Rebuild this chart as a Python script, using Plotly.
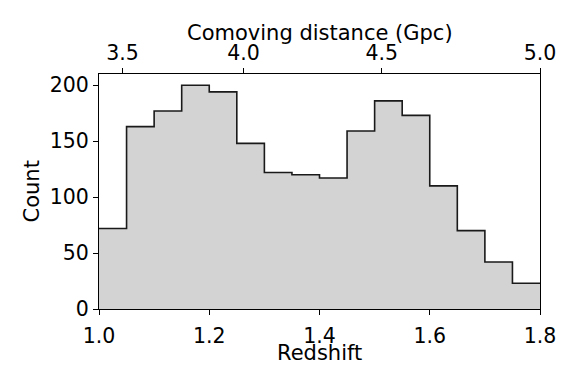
import plotly.graph_objects as go

# Data
bin_edges = [1.00, 1.05, 1.10, 1.15, 1.20, 1.25, 1.30, 1.35, 1.40, 1.45,
             1.50, 1.55, 1.60, 1.65, 1.70, 1.75, 1.80]
counts = [72, 163, 177, 200, 194, 148, 122, 120, 117, 159, 186, 173, 110, 70, 42, 23]

bottom_ticks = [1.0, 1.2, 1.4, 1.6, 1.8]
bottom_labels = ["1.0", "1.2", "1.4", "1.6", "1.8"]
y_ticks = [0, 50, 100, 150, 200]
# comoving distance ticks positioned at redshifts
top_tick_redshift = [1.0425, 1.262, 1.513, 1.8]
top_tick_labels = ["3.5", "4.0", "4.5", "5.0"]

FONT = "DejaVu Sans"

step_x = bin_edges
step_y = counts + [counts[-1]]

fig = go.Figure()
fig.add_trace(go.Scatter(
    x=step_x, y=step_y, mode="lines", line_shape="hv",
    line=dict(color="#1a1a1a", width=1.6),
    fill="tozeroy", fillcolor="#d3d3d3", hoverinfo="skip", showlegend=False))
fig.add_trace(go.Scatter(x=[bin_edges[0], bin_edges[-1]], y=[0, 0], xaxis="x2",
                         mode="markers", marker=dict(opacity=0), showlegend=False,
                         hoverinfo="skip"))

axis_common = dict(showgrid=False, zeroline=False, showline=True, linecolor="black",
                   linewidth=1, ticks="outside", ticklen=5, tickwidth=1, tickcolor="black",
                   tickfont=dict(family=FONT, size=20.5, color="black"))

title_font = dict(family=FONT, size=21, color="black")

# page body has an 8px margin, so the figure is 8px smaller and margins shifted
fig.update_layout(
    width=573, height=380,
    margin=dict(l=91, r=41, t=66, b=79),
    paper_bgcolor="white", plot_bgcolor="white",
    font=dict(family=FONT, color="black"),
    xaxis=dict(range=[1.0, 1.8], tickvals=bottom_ticks, ticktext=bottom_labels,
               ticklabelstandoff=3, **axis_common),
    xaxis2=dict(range=[1.0, 1.8], overlaying="x", side="top", tickvals=top_tick_redshift,
                ticktext=top_tick_labels, **axis_common),
    yaxis=dict(range=[0, 210], tickvals=y_ticks, mirror=True, **axis_common),
    annotations=[
        dict(text="Redshift", xref="paper", yref="paper", x=0.5, y=0,
             xanchor="center", yanchor="middle", yshift=-44, showarrow=False,
             font=title_font),
        dict(text="Comoving distance (Gpc)", xref="paper", yref="paper", x=0.5, y=1,
             xanchor="center", yanchor="middle", yshift=41, showarrow=False,
             font=title_font),
        dict(text="Count", xref="paper", yref="paper", x=0, y=0.5, textangle=-90,
             xanchor="center", yanchor="middle", xshift=-68, showarrow=False,
             font=title_font),
    ],
)

fig.write_html("out.html")
